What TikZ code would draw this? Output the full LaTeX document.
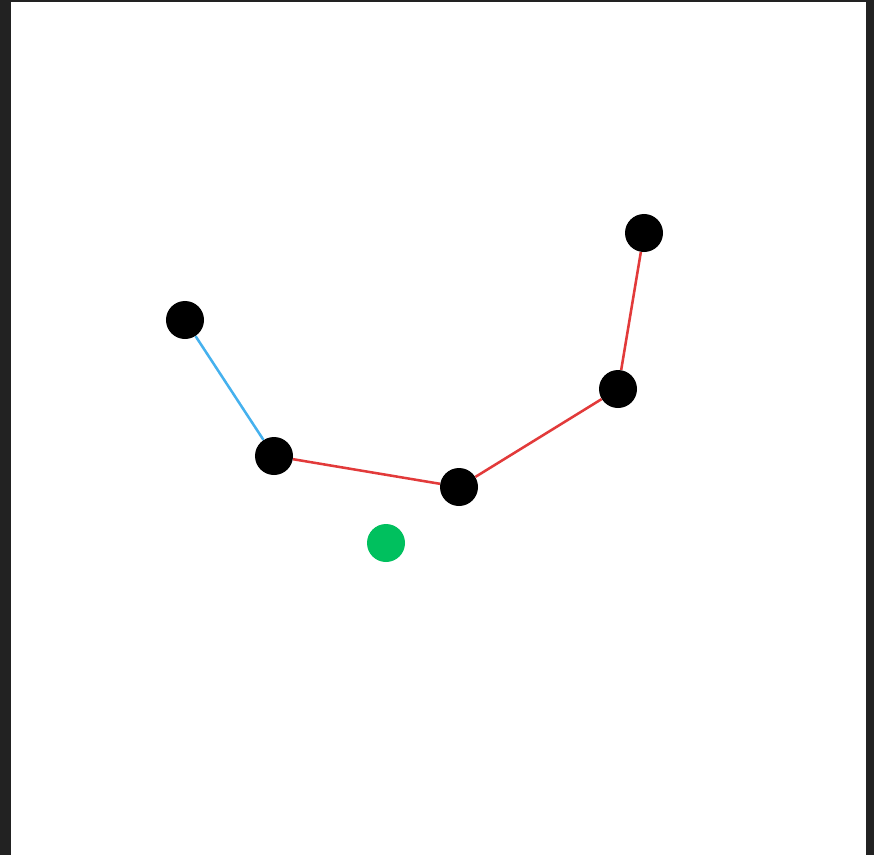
\documentclass[tikz,border=0pt]{standalone}
\usepackage{xcolor}
\usepackage{tikz}
\usetikzlibrary{positioning}

\definecolor{frameGray}{HTML}{222222}
\definecolor{boneBlue}{HTML}{45B1EE}
\definecolor{boneRed}{HTML}{E23A3A}
\definecolor{targetGreen}{HTML}{00C05E}

\begin{document}
\begin{tikzpicture}[
    x=0.025cm, y=-0.025cm,
    joint/.style={circle, fill=black, inner sep=0pt, minimum size=0.95cm},
    target/.style={circle, fill=targetGreen, inner sep=0pt, minimum size=0.95cm},
    bone/.style={line width=1.8pt},
]
% frame
\fill[frameGray] (0,0) rectangle (874,855);
\fill[white] (11,2) rectangle (866,855);
\useasboundingbox (0,0) rectangle (874,855);

\node[joint] (base) at (185,320) {};
\node[joint] (j1) at (274,456) {};
\node[joint] (j2) at (459,487) {};
\node[joint] (j3) at (618,389) {};
\node[joint] (tip) at (644,233) {};
\node[target] (goal) at (386,543) {};

\draw[bone, boneBlue] (base) -- (j1);
\draw[bone, boneRed] (j1) -- (j2);
\draw[bone, boneRed] (j2) -- (j3);
\draw[bone, boneRed] (j3) -- (tip);

\end{tikzpicture}
\end{document}
